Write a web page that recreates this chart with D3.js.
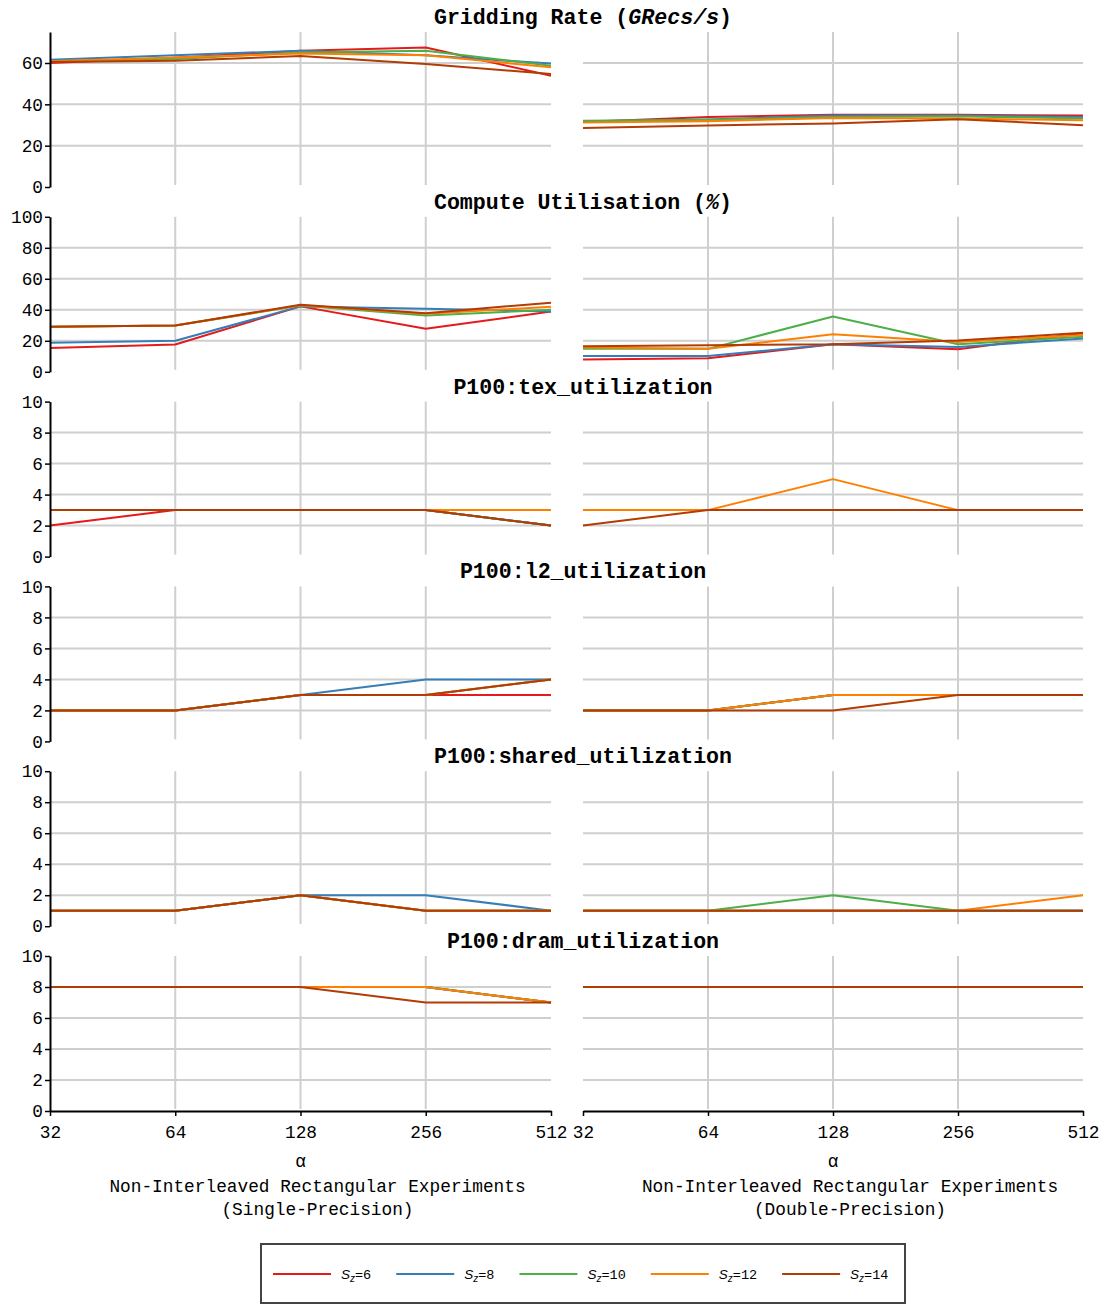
<!DOCTYPE html>
<html>
<head>
<meta charset="utf-8">
<script src="https://cdn.jsdelivr.net/npm/d3@7"></script>
<style>
  html, body { margin: 0; padding: 0; background: #fff; }
  svg { display: block; }
  text { font-family: "Liberation Mono", "DejaVu Sans Mono", monospace; fill: #000; }
</style>
</head>
<body>
<script>
// ---------------- DATA ----------------
const alphas = [32, 64, 128, 256, 512];
const sizes = [6, 8, 10, 12, 14];
const seriesColors = ["#e41a1c", "#377eb8", "#4daf4a", "#ff7f00", "#b23c06"];

// Gridding Rate (GRecs/s), rows = Sz 6,8,10,12,14
const griddingSingle = [
  [60.0, 62.5, 65.9, 67.5, 53.8],
  [61.6, 63.8, 65.9, 63.7, 59.7],
  [61.0, 61.9, 65.1, 65.9, 58.7],
  [60.8, 62.7, 64.6, 63.8, 57.9],
  [60.5, 61.1, 63.4, 59.5, 54.7]
];
const griddingDouble = [
  [31.5, 33.9, 34.9, 34.9, 34.6],
  [31.8, 32.7, 34.6, 34.6, 33.9],
  [32.0, 32.6, 33.9, 34.2, 33.1],
  [31.2, 31.8, 33.4, 33.1, 32.3],
  [28.6, 29.8, 30.7, 32.8, 29.9]
];
// Compute Utilisation (%)
const computeSingle = [
  [15.4, 17.6, 42.2, 27.8, 38.9],
  [18.7, 20.0, 42.2, 40.7, 38.9],
  [29.1, 29.8, 42.8, 36.3, 40.0],
  [29.1, 29.8, 43.0, 37.4, 42.0],
  [29.1, 29.8, 43.3, 37.8, 44.6]
];
const computeDouble = [
  [8.0, 8.7, 17.8, 14.6, 24.8],
  [10.2, 10.2, 17.8, 16.0, 21.5],
  [14.8, 14.8, 35.7, 17.8, 22.6],
  [15.7, 14.8, 24.3, 19.3, 23.7],
  [16.5, 17.2, 17.8, 20.2, 25.2]
];
// P100:tex_utilization
const texSingle = [
  [2, 3, 3, 3, 2],
  [3, 3, 3, 3, 2],
  [3, 3, 3, 3, 2],
  [3, 3, 3, 3, 3],
  [3, 3, 3, 3, 2]
];
const texDouble = [
  [3, 3, 3, 3, 3],
  [3, 3, 3, 3, 3],
  [3, 3, 3, 3, 3],
  [3, 3, 5, 3, 3],
  [2, 3, 3, 3, 3]
];
// P100:l2_utilization
const l2Single = [
  [2, 2, 3, 3, 3],
  [2, 2, 3, 4, 4],
  [2, 2, 3, 3, 4],
  [2, 2, 3, 3, 4],
  [2, 2, 3, 3, 4]
];
const l2Double = [
  [2, 2, 3, 3, 3],
  [2, 2, 3, 3, 3],
  [2, 2, 3, 3, 3],
  [2, 2, 3, 3, 3],
  [2, 2, 2, 3, 3]
];
// P100:shared_utilization
const sharedSingle = [
  [1, 1, 2, 1, 1],
  [1, 1, 2, 2, 1],
  [1, 1, 2, 1, 1],
  [1, 1, 2, 1, 1],
  [1, 1, 2, 1, 1]
];
const sharedDouble = [
  [1, 1, 1, 1, 1],
  [1, 1, 1, 1, 1],
  [1, 1, 2, 1, 1],
  [1, 1, 1, 1, 2],
  [1, 1, 1, 1, 1]
];
// P100:dram_utilization
const dramSingle = [
  [8, 8, 8, 8, 7],
  [8, 8, 8, 8, 7],
  [8, 8, 8, 8, 7],
  [8, 8, 8, 8, 7],
  [8, 8, 8, 7, 7]
];
const dramDouble = [
  [8, 8, 8, 8, 8],
  [8, 8, 8, 8, 8],
  [8, 8, 8, 8, 8],
  [8, 8, 8, 8, 8],
  [8, 8, 8, 8, 8]
];

const panelTitles = [
  ["Gridding Rate (", "GRecs/s", ")"],
  ["Compute Utilisation (", "%", ")"],
  ["P100:tex_utilization", "", ""],
  ["P100:l2_utilization", "", ""],
  ["P100:shared_utilization", "", ""],
  ["P100:dram_utilization", "", ""]
];
const panelMax = [75, 100, 10, 10, 10, 10];
const panelTicks = [
  [0, 20, 40, 60],
  [0, 20, 40, 60, 80, 100],
  [0, 2, 4, 6, 8, 10],
  [0, 2, 4, 6, 8, 10],
  [0, 2, 4, 6, 8, 10],
  [0, 2, 4, 6, 8, 10]
];
const panelData = [
  [griddingSingle, griddingDouble],
  [computeSingle, computeDouble],
  [texSingle, texDouble],
  [l2Single, l2Double],
  [sharedSingle, sharedDouble],
  [dramSingle, dramDouble]
];
const xAxisLabel = "α";
const columnLabels = [
  ["Non-Interleaved Rectangular Experiments", "(Single-Precision)"],
  ["Non-Interleaved Rectangular Experiments", "(Double-Precision)"]
];

// ---------------- LAYOUT ----------------
const W = 1104, H = 1304;
const colRanges = [[50, 551], [583, 1083]];
const panelTop0 = 32, panelStep = 184.8, plotH = 155;
const gridColor = "#cfcfcf";

const svg = d3.select("body").append("svg")
  .attr("width", W).attr("height", H);

const xScales = colRanges.map(r => d3.scaleLog().base(2).domain([32, 512]).range(r));

panelData.forEach((pair, i) => {
  const top = panelTop0 + i * panelStep;
  const bottom = top + plotH;
  const y = d3.scaleLinear().domain([0, panelMax[i]]).range([bottom, top]);
  const g = svg.append("g");

  // title
  const t = g.append("text")
    .attr("x", 583).attr("y", top - 8)
    .attr("text-anchor", "middle")
    .style("font-size", "21.6px").style("font-weight", "bold");
  t.append("tspan").text(panelTitles[i][0]);
  if (panelTitles[i][1]) t.append("tspan").style("font-style", "italic").text(panelTitles[i][1]);
  if (panelTitles[i][2]) t.append("tspan").text(panelTitles[i][2]);

  pair.forEach((rows, c) => {
    const x = xScales[c];
    const [x0, x1] = colRanges[c];
    // horizontal grid
    g.selectAll(null)
      .data(panelTicks[i].filter(v => v > 0 && v < panelMax[i]))
      .enter().append("line")
      .attr("x1", x0).attr("x2", x1)
      .attr("y1", d => y(d)).attr("y2", d => y(d))
      .attr("stroke", gridColor).attr("stroke-width", 2);
    // vertical grid
    g.selectAll(null)
      .data(alphas.slice(1, 4))
      .enter().append("line")
      .attr("x1", d => x(d)).attr("x2", d => x(d))
      .attr("y1", top).attr("y2", bottom - 2)
      .attr("stroke", gridColor).attr("stroke-width", 2);

    const line = d3.line().x((d, k) => x(alphas[k])).y(d => y(d));
    rows.forEach((vals, s) => {
      g.append("path")
        .attr("d", line(vals))
        .attr("fill", "none")
        .attr("stroke", seriesColors[s])
        .attr("stroke-width", 2)
        .attr("stroke-linejoin", "round");
    });
  });

  // y axis (left only)
  const ya = g.append("g")
    .attr("transform", `translate(${colRanges[0][0]},0)`)
    .call(d3.axisLeft(y).tickValues(panelTicks[i]).tickSize(5).tickSizeOuter(0).tickPadding(2).tickFormat(d3.format("d")));
  ya.select(".domain").attr("stroke", "#000").attr("stroke-width", 2);
  ya.selectAll(".tick line").attr("stroke", "#000").attr("stroke-width", 1.5);
  ya.selectAll("text").style("font-size", "17.8px").attr("fill", "#000")
    .style("font-family", '"Liberation Mono", monospace');

  // bottom x axis on last panel
  if (i === panelData.length - 1) {
    xScales.forEach((x, c) => {
      const xa = g.append("g")
        .attr("transform", `translate(0,${bottom})`)
        .call(d3.axisBottom(x).tickValues(alphas).tickSize(5).tickSizeOuter(0).tickPadding(9).tickFormat(d3.format("d")));
      xa.select(".domain").attr("stroke", "#000").attr("stroke-width", 2);
      xa.selectAll(".tick line").attr("stroke", "#000").attr("stroke-width", 1.5);
      xa.selectAll("text").style("font-size", "17.8px").attr("fill", "#000")
        .style("font-family", '"Liberation Mono", monospace');
      const cx = (colRanges[c][0] + colRanges[c][1]) / 2;
      g.append("text").attr("x", cx).attr("y", bottom + 56)
        .attr("text-anchor", "middle").style("font-size", "17.8px").text(xAxisLabel);
      columnLabels[c].forEach((lab, k) => {
        g.append("text").attr("x", cx + 17).attr("y", bottom + 81 + k * 23)
          .attr("text-anchor", "middle").style("font-size", "17.8px").text(lab);
      });
    });
  }
});

// ---------------- LEGEND ----------------
const leg = svg.append("g");
leg.append("rect")
  .attr("x", 261).attr("y", 1244).attr("width", 644).attr("height", 59)
  .attr("fill", "#fff").attr("stroke", "#444").attr("stroke-width", 2);
let lx = 273;
const ly = 1274;
sizes.forEach((sz, s) => {
  leg.append("line")
    .attr("x1", lx).attr("x2", lx + 58).attr("y1", ly).attr("y2", ly)
    .attr("stroke", seriesColors[s]).attr("stroke-width", 2);
  const txt = leg.append("text").attr("x", lx + 68).attr("y", ly + 5).style("font-size", "13.5px");
  txt.append("tspan").style("font-family", '"Liberation Sans", Arial, sans-serif').style("font-style", "italic").text("S");
  txt.append("tspan").style("font-family", '"Liberation Sans", Arial, sans-serif').style("font-style", "italic")
    .style("font-size", "10px").attr("dy", 3).text("z");
  txt.append("tspan").attr("dy", -3).text("=" + sz);
  const w = txt.node().getComputedTextLength();
  lx = lx + 68 + w + 25;
});
</script>
</body>
</html>
